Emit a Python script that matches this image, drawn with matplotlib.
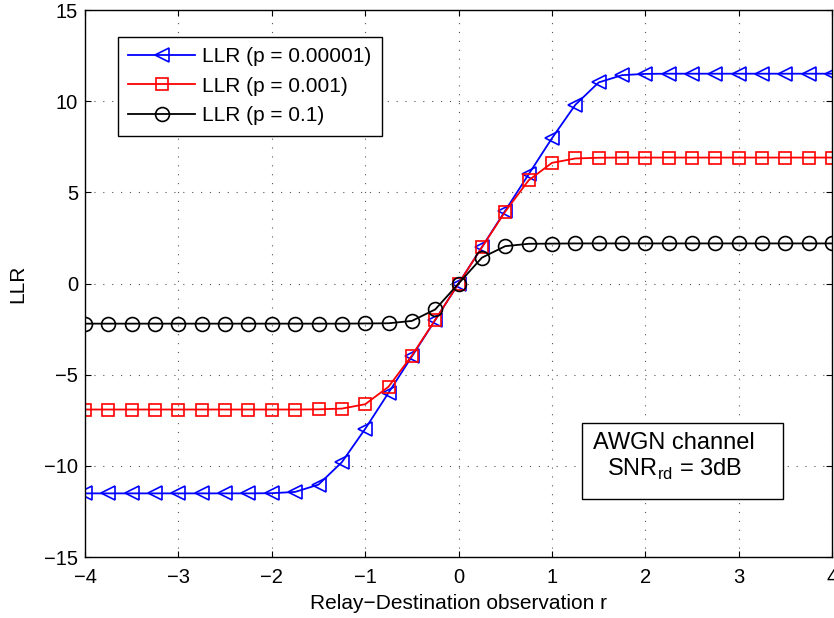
import matplotlib
matplotlib.use("Agg")
import matplotlib.pyplot as plt
from matplotlib.patches import Rectangle

plt.rcParams['font.family'] = ['Liberation Sans', 'DejaVu Sans']
plt.rcParams['mathtext.fontset'] = 'custom'
plt.rcParams['mathtext.rm'] = 'Liberation Sans'

r = [-4.0, -3.75, -3.5, -3.25, -3.0, -2.75, -2.5, -2.25, -2.0, -1.75, -1.5, -1.25,
     -1.0, -0.75, -0.5, -0.25, 0.0, 0.25, 0.5, 0.75, 1.0, 1.25, 1.5, 1.75,
     2.0, 2.25, 2.5, 2.75, 3.0, 3.25, 3.5, 3.75, 4.0]

llr_p1e5 = [-11.51, -11.51, -11.51, -11.51, -11.51, -11.51, -11.51, -11.51, -11.50, -11.43,
            -11.03, -9.80, -7.97, -5.99, -4.00, -2.00, 0.0, 2.00, 4.00, 5.99, 7.97, 9.80,
            11.03, 11.43, 11.50, 11.51, 11.51, 11.51, 11.51, 11.51, 11.51, 11.51, 11.51]

llr_p1e3 = [-6.91, -6.91, -6.91, -6.91, -6.91, -6.91, -6.91, -6.91, -6.91, -6.91,
            -6.90, -6.86, -6.62, -5.66, -3.95, -1.99, 0.0, 1.99, 3.95, 5.66, 6.62, 6.86,
            6.90, 6.91, 6.91, 6.91, 6.91, 6.91, 6.91, 6.91, 6.91, 6.91, 6.91]

llr_p1e1 = [-2.20, -2.20, -2.20, -2.20, -2.20, -2.20, -2.20, -2.20, -2.20, -2.20,
            -2.20, -2.20, -2.19, -2.18, -2.05, -1.42, 0.0, 1.42, 2.05, 2.18, 2.19, 2.20,
            2.20, 2.20, 2.20, 2.20, 2.20, 2.20, 2.20, 2.20, 2.20, 2.20, 2.20]

x_ticks = [-4, -3, -2, -1, 0, 1, 2, 3, 4]
y_ticks = [-15, -10, -5, 0, 5, 10, 15]

fig = plt.figure(figsize=(8.34, 6.18), dpi=100)
ax = fig.add_axes([0.102, 0.0987, 0.8957, 0.885])

ax.plot(r, llr_p1e5, color='#0000ff', lw=1.3, marker='<', ms=10, mfc='none',
        mec='#0000ff', mew=1.2, label='LLR (p = 0.00001)')
ax.plot(r, llr_p1e3, color='#ff0000', lw=1.3, marker='s', ms=8, mfc='none',
        mec='#ff0000', mew=1.2, label='LLR (p = 0.001)')
ax.plot(r, llr_p1e1, color='black', lw=1.3, marker='o', ms=10, mfc='none',
        mec='black', mew=1.2, label='LLR (p = 0.1)')

ax.set_xlim(-4, 4)
ax.set_ylim(-15, 15)
ax.set_xticks(x_ticks)
ax.set_yticks(y_ticks)
ax.tick_params(direction='in', top=True, right=True, labelsize=14.5, length=4,
               width=0.8, pad=5)
ax.tick_params(axis='x', pad=8)
ax.grid(True, color='#555555', linestyle=(0, (1, 7)), linewidth=0.8)
for s in ax.spines.values():
    s.set_linewidth(1.0)

ax.set_xlabel('Relay\u2212Destination observation r', fontsize=15, labelpad=5)
ax.set_ylabel('LLR', fontsize=15, labelpad=12)

leg = ax.legend(loc='upper left', bbox_to_anchor=(0.044, 0.951), borderaxespad=0,
                fontsize=15, handlelength=3.2, fancybox=False, framealpha=1,
                edgecolor='black', borderpad=0.5, labelspacing=0.5,
                handletextpad=0.35)
leg.get_frame().set_linewidth(1.0)

# annotation box with channel description
ax.add_patch(Rectangle((0.665, 0.106), 0.269, 0.139, transform=ax.transAxes,
                       fc='white', ec='black', lw=1.0, zorder=5))
ax.text(0.788, 0.208, 'AWGN channel', transform=ax.transAxes, ha='center',
        va='center', fontsize=17, zorder=6)
ax.text(0.789, 0.160, 'SNR$_{\\mathregular{rd}}$ = 3dB', transform=ax.transAxes,
        ha='center', va='center', fontsize=17, zorder=6)

fig.savefig('out.png', dpi=100)
